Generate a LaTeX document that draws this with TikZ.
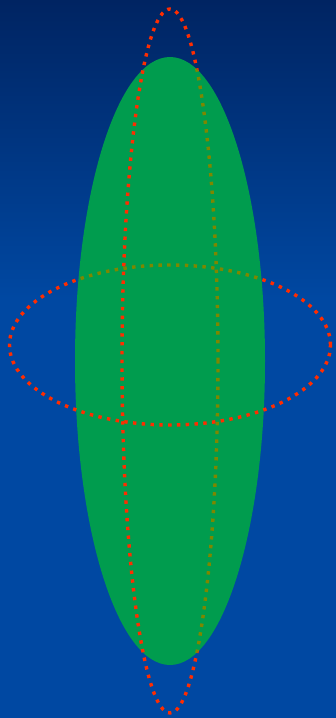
\documentclass[tikz,border=0pt]{standalone}
\begin{document}
\begin{tikzpicture}[x=1pt,y=1pt]
\definecolor{bgtop}{RGB}{0,36,98}
\definecolor{bgbot}{RGB}{0,72,162}
\definecolor{ellgreen}{RGB}{0,156,78}
\definecolor{dotred}{RGB}{255,45,0}
\definecolor{dotolive}{RGB}{125,135,0}
\tikzset{dots/.style={line width=3.4pt, dash pattern=on 3.4pt off 5.4pt}}
\fill[bgbot] (0,0) rectangle (336,420);
\shade[top color=bgtop, bottom color=bgbot] (0,419) rectangle (336,718);
\useasboundingbox (0,0) rectangle (336,718);
\coordinate (vc) at (170,357);
\coordinate (hc) at (170,373);
\coordinate (gc) at (170,357);
% full curves in red
\draw[dots, dotred] (vc) ellipse [x radius=48, y radius=352];
\draw[dots, dotred] (hc) ellipse [x radius=160.5, y radius=80];
% green ellipsoid
\fill[ellgreen] (gc) ellipse [x radius=95, y radius=304];
\begin{scope}
  \clip (gc) ellipse [x radius=95, y radius=304];
  % back parts (olive)
  \begin{scope}
    \clip (170,0) rectangle (336,718);
    \draw[dots, dotolive] (vc) ellipse [x radius=48, y radius=352];
  \end{scope}
  \begin{scope}
    \clip (0,373) rectangle (336,718);
    \draw[dots, dotolive] (hc) ellipse [x radius=160.5, y radius=80];
  \end{scope}
  % front parts (red)
  \begin{scope}
    \clip (0,0) rectangle (170,718);
    \draw[dots, dotred] (vc) ellipse [x radius=48, y radius=352];
  \end{scope}
  \begin{scope}
    \clip (0,0) rectangle (336,373);
    \draw[dots, dotred] (hc) ellipse [x radius=160.5, y radius=80];
  \end{scope}
\end{scope}
\end{tikzpicture}
\end{document}
